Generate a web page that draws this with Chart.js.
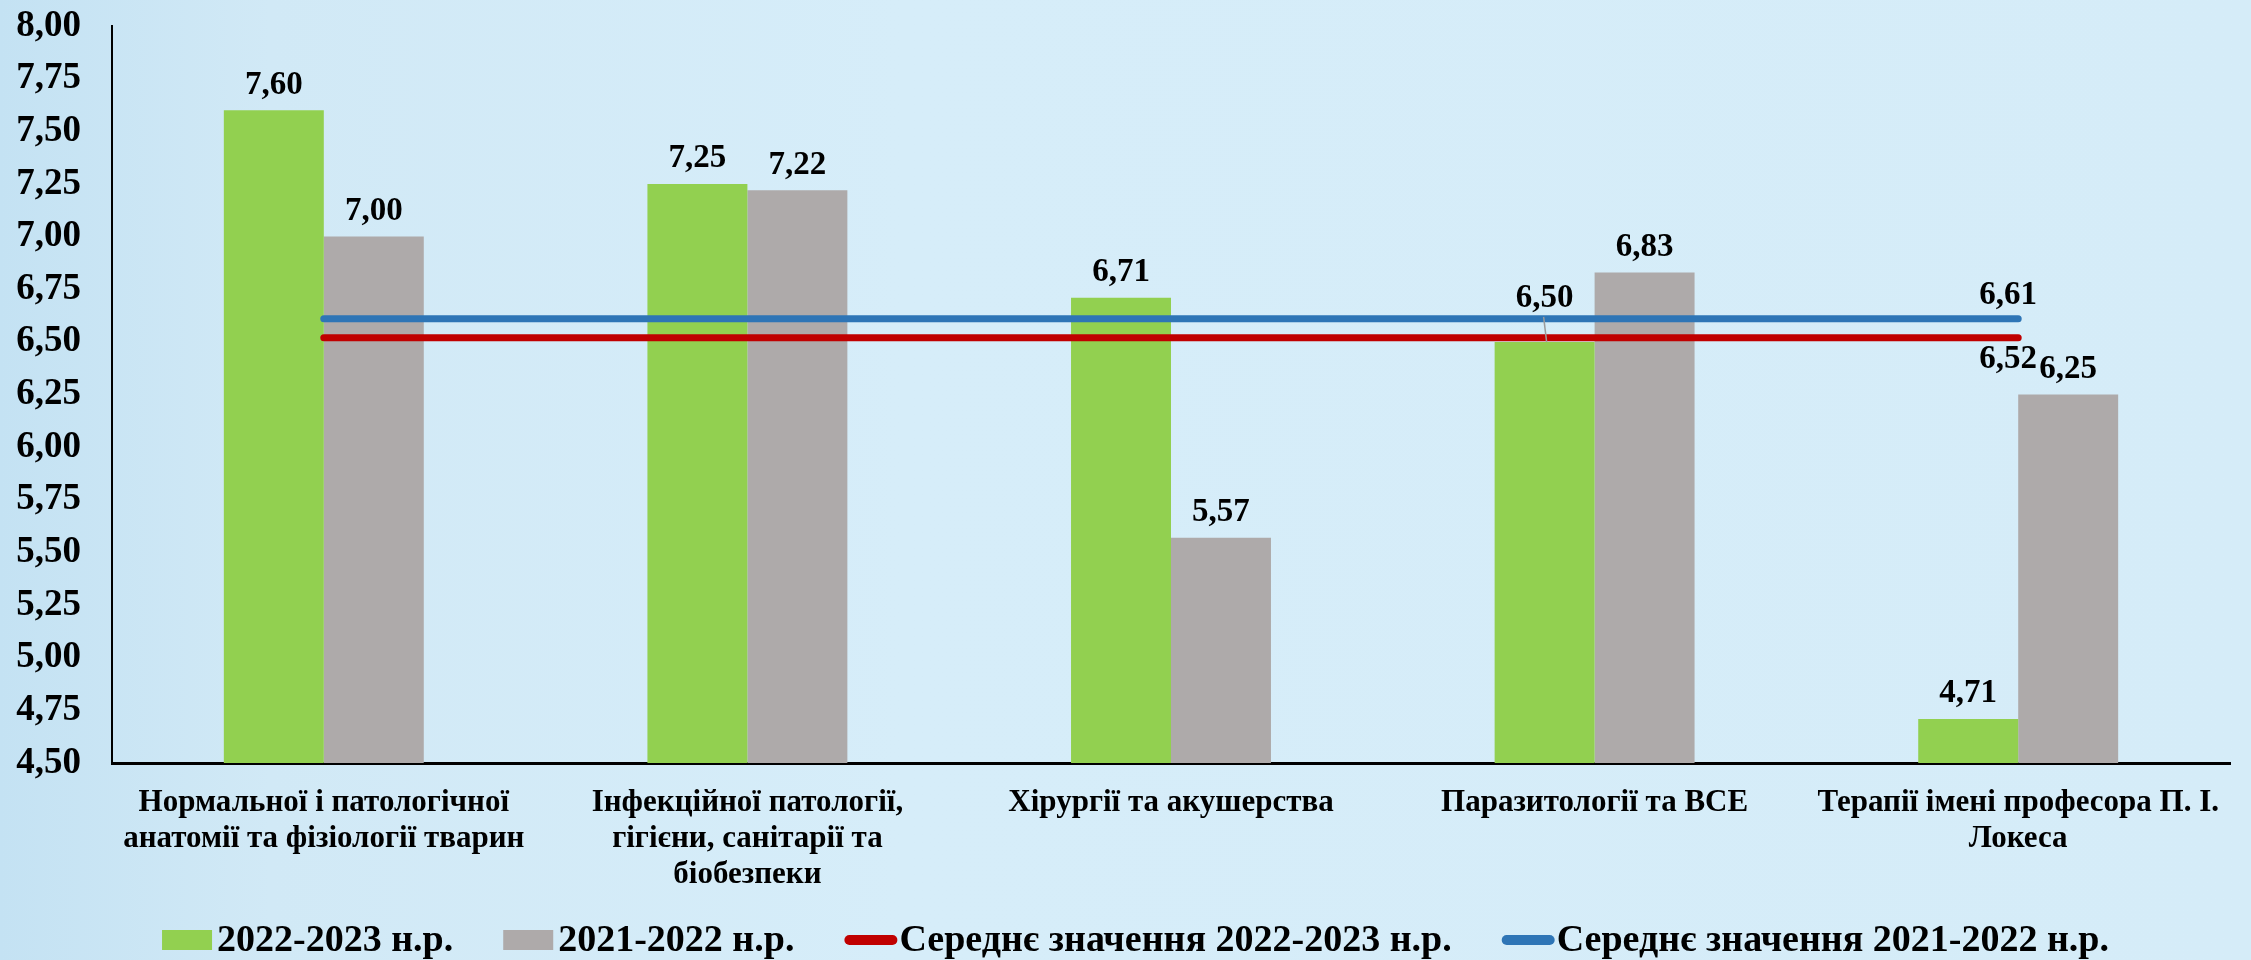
<!DOCTYPE html>
<html lang="uk">
<head>
    <meta charset="UTF-8">
    <title>Середнє значення</title>
    <style>
        html, body { margin: 0; padding: 0; }
        body {
            width: 2251px;
            height: 960px;
            overflow: hidden;
            background: linear-gradient(to right, #c4e2f3 0%, #d1e9f6 12%, #d6edf9 40%, #d5ecf8 100%);
        }
        #wrap { position: relative; width: 2251px; height: 960px; }
    </style>
</head>
<body>
    <div id="wrap">
        <canvas id="chart"></canvas>
    </div>

    <script src="https://cdn.jsdelivr.net/npm/chart.js"></script>
    <script>
        // categories (departments)
        const departments = [
            ['Нормальної і патологічної', 'анатомії та фізіології тварин'],
            ['Інфекційної патології,', 'гігієни, санітарії та', 'біобезпеки'],
            'Хірургії та акушерства',
            'Паразитології та ВСЕ',
            ['Терапії імені професора П. І.', 'Локеса']
        ];

        // values per year
        const year2023 = [7.60, 7.25, 6.71, 6.50, 4.71];
        const year2022 = [7.00, 7.22, 5.57, 6.83, 6.25];

        // average lines
        const avg2023 = [6.52, 6.52, 6.52, 6.52, 6.52];
        const avg2022 = [6.61, 6.61, 6.61, 6.61, 6.61];

        const seriesNames = [
            '2022-2023 н.р.',
            '2021-2022 н.р.',
            'Середнє значення 2022-2023 н.р.',
            'Середнє значення 2021-2022 н.р.'
        ];

        const yTicks = { min: 4.5, max: 8.0, step: 0.25 };

        const FONT = '"Liberation Serif", "Times New Roman", serif';
        const fmt = v => v.toFixed(2).replace('.', ',');

        // value labels above bars and at the end of the average lines
        const valueLabels = {
            id: 'valueLabels',
            afterDatasetsDraw(chart) {
                const ctx = chart.ctx;
                ctx.save();
                ctx.font = 'bold 33px ' + FONT;
                ctx.fillStyle = '#000';
                ctx.textAlign = 'center';
                ctx.textBaseline = 'middle';
                const averages = [avg2023[0], avg2022[0]];
                chart.data.datasets.forEach((ds, di) => {
                    const meta = chart.getDatasetMeta(di);
                    if (ds.type === 'line') {
                        const last = meta.data[meta.data.length - 1];
                        const v = ds.data[ds.data.length - 1];
                        const dy = ds.labelSide === 'above' ? -23 : 22;
                        ctx.fillText(fmt(v), last.x - 10, last.y + dy);
                        return;
                    }
                    meta.data.forEach((bar, i) => {
                        const v = ds.data[i];
                        const near = averages.some(a => Math.abs(a - v) < 0.06);
                        if (near) {
                            // push label clear of the lines, with a small leader
                            ctx.fillText(fmt(v), bar.x, bar.y - 43);
                            ctx.strokeStyle = '#9a9a9a';
                            ctx.lineWidth = 1.5;
                            ctx.beginPath();
                            ctx.moveTo(bar.x - 1, bar.y - 25);
                            ctx.lineTo(bar.x + 2, bar.y);
                            ctx.stroke();
                        } else {
                            ctx.fillText(fmt(v), bar.x, bar.y - 25);
                        }
                    });
                });
                ctx.restore();
            }
        };

        // legend drawn by hand so spacing can match the original
        const bottomLegend = {
            id: 'bottomLegend',
            afterDraw(chart) {
                const ctx = chart.ctx;
                ctx.save();
                ctx.font = 'bold 38px ' + FONT;
                ctx.textBaseline = 'middle';
                ctx.textAlign = 'left';
                const items = chart.data.datasets.map(ds => ({
                    text: ds.label,
                    isLine: ds.type === 'line',
                    color: ds.type === 'line' ? ds.borderColor : ds.backgroundColor
                }));
                const symW = 50, gapSym = 5, gapItem = 50;
                let total = 0;
                items.forEach((it, i) => {
                    it.w = ctx.measureText(it.text).width;
                    total += symW + gapSym + it.w + (i < items.length - 1 ? gapItem : 0);
                });
                let x = (chart.width - total) / 2 + 10;
                const y = 940;
                items.forEach(it => {
                    if (it.isLine) {
                        ctx.strokeStyle = it.color;
                        ctx.lineWidth = 10;
                        ctx.lineCap = 'round';
                        ctx.beginPath();
                        ctx.moveTo(x + 5, y);
                        ctx.lineTo(x + symW - 2, y);
                        ctx.stroke();
                    } else {
                        ctx.fillStyle = it.color;
                        ctx.fillRect(x, y - 10, symW, 20);
                    }
                    x += symW + gapSym;
                    ctx.fillStyle = '#000';
                    ctx.fillText(it.text, x, y + 1);
                    x += it.w + gapItem;
                });
                ctx.restore();
            }
        };

        const ctx = document.getElementById('chart').getContext('2d');
        new Chart(ctx, {
            data: {
                labels: departments,
                datasets: [
                    {
                        type: 'bar',
                        label: seriesNames[0],
                        data: year2023,
                        backgroundColor: '#92d050',
                        order: 1,
                        categoryPercentage: 0.472,
                        barPercentage: 1.0
                    },
                    {
                        type: 'bar',
                        label: seriesNames[1],
                        data: year2022,
                        backgroundColor: '#aeaaaa',
                        order: 1,
                        categoryPercentage: 0.472,
                        barPercentage: 1.0
                    },
                    {
                        type: 'line',
                        label: seriesNames[2],
                        data: avg2023,
                        borderColor: '#c00000',
                        backgroundColor: '#c00000',
                        borderWidth: 7,
                        borderCapStyle: 'round',
                        pointRadius: 0,
                        labelSide: 'below',
                        order: 0
                    },
                    {
                        type: 'line',
                        label: seriesNames[3],
                        data: avg2022,
                        borderColor: '#2e75b6',
                        backgroundColor: '#2e75b6',
                        borderWidth: 7,
                        borderCapStyle: 'round',
                        pointRadius: 0,
                        labelSide: 'above',
                        order: 0
                    }
                ]
            },
            options: {
                responsive: true,
                maintainAspectRatio: false,
                animation: false,
                layout: {
                    padding: { left: 16, right: 21, top: 26, bottom: 45 }
                },
                plugins: {
                    legend: { display: false },
                    tooltip: { enabled: false }
                },
                scales: {
                    x: {
                        grid: { display: false, drawTicks: false },
                        border: { display: true, color: '#000', width: 3 },
                        ticks: {
                            color: '#000',
                            padding: 22,
                            maxRotation: 0,
                            autoSkip: false,
                            font: { family: FONT, size: 31, weight: 'bold', lineHeight: 1.16 }
                        },
                        afterFit(scale) {
                            scale.paddingLeft = 0;
                            scale.paddingRight = 0;
                        }
                    },
                    y: {
                        min: yTicks.min,
                        max: yTicks.max,
                        grid: { display: false, drawTicks: false },
                        border: { display: true, color: '#000', width: 2 },
                        ticks: {
                            stepSize: yTicks.step,
                            color: '#000',
                            padding: 31,
                            font: { family: FONT, size: 37, weight: 'bold' },
                            callback: v => fmt(v)
                        },
                        afterFit(scale) {
                            scale.width = 96;
                            scale.paddingTop = 0;
                            scale.paddingBottom = 0;
                        }
                    }
                }
            },
            plugins: [valueLabels, bottomLegend]
        });
    </script>
</body>
</html>
